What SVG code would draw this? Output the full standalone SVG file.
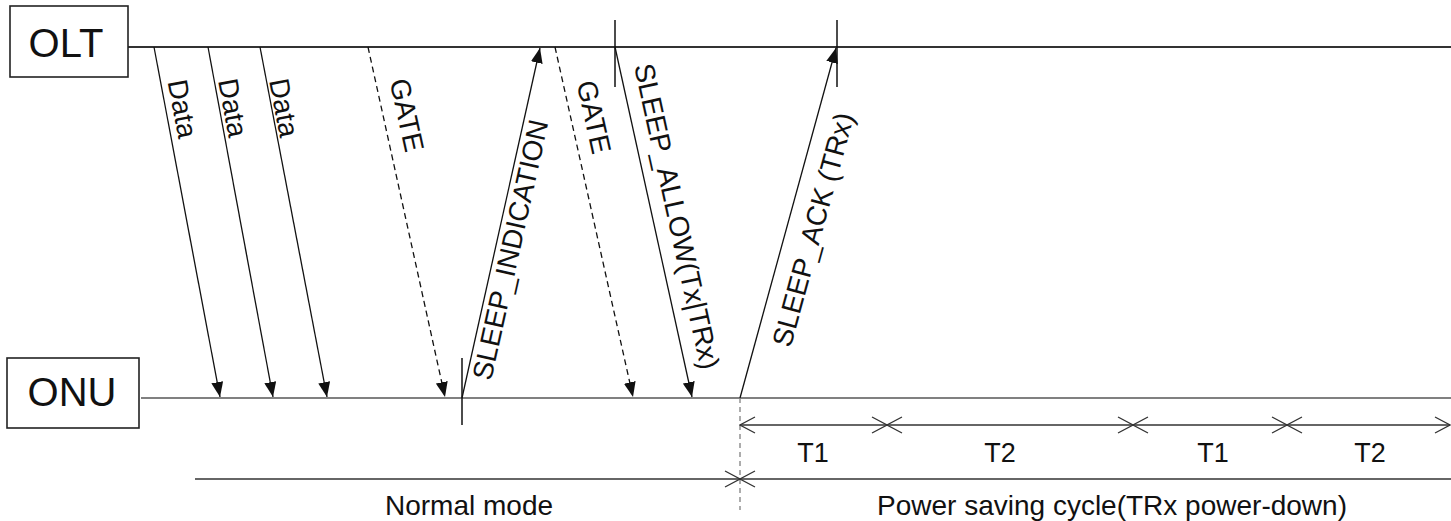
<svg xmlns="http://www.w3.org/2000/svg" width="1451" height="521" viewBox="0 0 1451 521">
  <style>
    .box { fill: #ffffff; stroke: #222222; stroke-width: 1.6; }
    .name { font-family: "Liberation Sans", Arial, sans-serif; font-size: 40px; fill: #111111; text-anchor: middle; }
    .lbl { font-family: "Liberation Sans", Arial, sans-serif; font-size: 28px; fill: #111111; }
    .tl { font-family: "Liberation Sans", Arial, sans-serif; font-size: 27px; fill: #111111; text-anchor: middle; }
    .msg { stroke: #111111; stroke-width: 1.3; fill: none; marker-end: url(#fill-arrow); }
    .dash { stroke-dasharray: 6 4; }
    .tick { stroke: #111111; stroke-width: 1.5; }
    .span { stroke: #333333; stroke-width: 1.3; fill: none; }
  </style>
  <defs>
    <marker id="fill-arrow" viewBox="0 0 15 12" refX="15" refY="6" markerWidth="15" markerHeight="12" markerUnits="userSpaceOnUse" orient="auto">
      <path d="M0,0 L15,6 L0,12 Z" fill="#111111"/>
    </marker>
    <marker id="open-arrow" viewBox="-1 -1 17 18" refX="15" refY="8" markerWidth="17" markerHeight="18" markerUnits="userSpaceOnUse" orient="auto-start-reverse">
      <path d="M0,0 L15,8 L0,16" fill="none" stroke="#333333" stroke-width="1.3"/>
    </marker>
  </defs>

  <g id="OLT">
    <line x1="128" y1="47" x2="1451" y2="47" stroke="#333333" stroke-width="2"/>
    <rect class="box" x="10" y="6" width="118" height="71"/>
    <text class="name" x="66" y="57">OLT</text>
  </g>

  <g id="ONU">
    <line x1="141" y1="398" x2="1451" y2="398" stroke="#808080" stroke-width="2.2"/>
    <rect class="box" x="7" y="358" width="132" height="70"/>
    <text class="name" x="72" y="406">ONU</text>
  </g>

  <g id="connectors">
    <line class="msg" x1="154" y1="47" x2="220" y2="397"/>
    <line class="msg" x1="208" y1="47" x2="273" y2="397"/>
    <line class="msg" x1="260" y1="47" x2="327" y2="397"/>
    <line class="msg dash" x1="368" y1="47" x2="445" y2="397"/>
    <line class="msg" x1="462" y1="398" x2="540" y2="48"/>
    <line class="msg dash" x1="555" y1="47" x2="633" y2="397"/>
    <line class="msg" x1="615" y1="47" x2="692" y2="397"/>
    <line class="msg" x1="740" y1="398" x2="836" y2="48"/>
    <line class="tick" x1="462" y1="358" x2="462" y2="425"/>
    <line class="tick" x1="615" y1="20" x2="615" y2="87" stroke="#555555"/>
    <line class="tick" x1="837" y1="20" x2="837" y2="87"/>
  </g>

  <g id="connector-labels">
    <text class="lbl" transform="translate(167.6,81.5) rotate(79.35)">Data</text>
    <text class="lbl" transform="translate(218,80.5) rotate(79.5)">Data</text>
    <text class="lbl" transform="translate(269,80.5) rotate(79.2)">Data</text>
    <text class="lbl" transform="translate(389.5,81) rotate(77.6)">GATE</text>
    <text class="lbl" transform="translate(491,381.5) rotate(-77.5)">SLEEP_INDICATION</text>
    <text class="lbl" transform="translate(576.5,83) rotate(77.5)">GATE</text>
    <text class="lbl" transform="translate(634,66) rotate(77.6)">SLEEP_ALLOW(Tx|TRx)</text>
    <text class="lbl" transform="translate(790.5,348.4) rotate(-74.7)">SLEEP_ACK (TRx)</text>
  </g>

  <g id="timeline">
    <line x1="740" y1="398" x2="740" y2="510" stroke="#808080" stroke-width="1.3" stroke-dasharray="5 4"/>
    <line class="span" x1="740" y1="425" x2="887" y2="425" marker-start="url(#open-arrow)" marker-end="url(#open-arrow)"/>
    <line class="span" x1="887" y1="425" x2="1133" y2="425" marker-start="url(#open-arrow)" marker-end="url(#open-arrow)"/>
    <line class="span" x1="1133" y1="425" x2="1287" y2="425" marker-start="url(#open-arrow)" marker-end="url(#open-arrow)"/>
    <line class="span" x1="1287" y1="425" x2="1450" y2="425" marker-start="url(#open-arrow)" marker-end="url(#open-arrow)"/>
    <text class="tl" x="813" y="462">T1</text>
    <text class="tl" x="1000" y="462">T2</text>
    <text class="tl" x="1213" y="462">T1</text>
    <text class="tl" x="1370" y="462">T2</text>
    <line class="span" x1="195" y1="479" x2="740" y2="479" marker-end="url(#open-arrow)"/>
    <line class="span" x1="740" y1="479" x2="1451" y2="479" marker-start="url(#open-arrow)"/>
    <text class="lbl" x="469" y="515" text-anchor="middle">Normal mode</text>
    <text class="lbl" x="1112" y="515" text-anchor="middle">Power saving cycle(TRx power-down)</text>
  </g>
</svg>
